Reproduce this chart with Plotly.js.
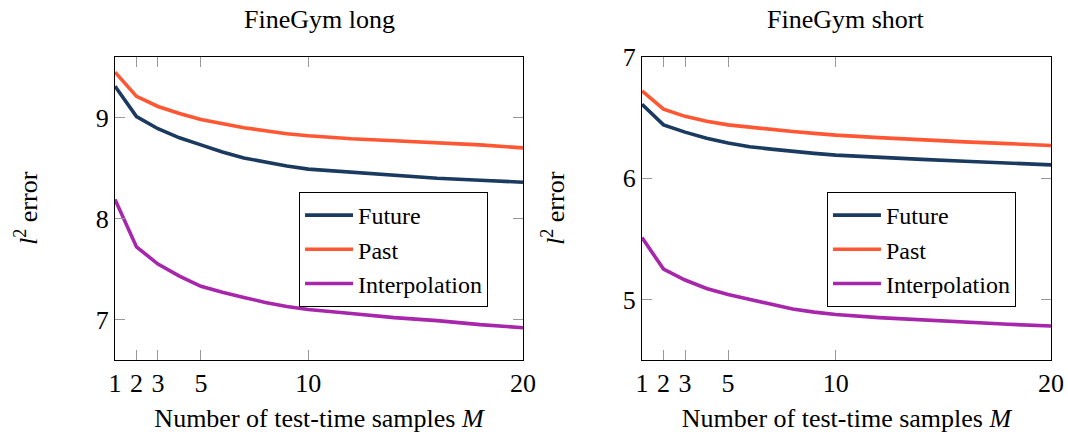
<!DOCTYPE html>
<html>
<head>
<meta charset="utf-8">
<script src="https://cdn.plot.ly/plotly-3.0.1.min.js"></script>
<style>html,body{margin:0;padding:0;background:#fff}#chart{width:1068px;height:436px}</style>
</head>
<body>
<div id="chart"></div>
<script>
// Data
const samples = [1, 2, 3, 4, 5, 6, 7, 8, 9, 10, 12, 14, 16, 18, 20];
const xTicks = [1, 2, 3, 5, 10, 20];
const seriesNames = ["Future", "Past", "Interpolation"];
const panelTitles = ["FineGym long", "FineGym short"];

const longFuture = [9.31, 9.01, 8.89, 8.80, 8.73, 8.66, 8.60, 8.56, 8.52, 8.49, 8.46, 8.43, 8.40, 8.38, 8.36];
const longPast   = [9.45, 9.21, 9.11, 9.04, 8.98, 8.94, 8.90, 8.87, 8.84, 8.82, 8.79, 8.77, 8.75, 8.73, 8.70];
const longInterp = [8.19, 7.72, 7.55, 7.43, 7.33, 7.27, 7.22, 7.17, 7.13, 7.10, 7.06, 7.02, 6.99, 6.95, 6.92];

const shortFuture = [6.61, 6.44, 6.38, 6.33, 6.29, 6.26, 6.24, 6.22, 6.205, 6.19, 6.17, 6.155, 6.14, 6.125, 6.11];
const shortPast   = [6.72, 6.57, 6.51, 6.47, 6.44, 6.42, 6.40, 6.385, 6.37, 6.355, 6.335, 6.315, 6.30, 6.285, 6.27];
const shortInterp = [5.51, 5.25, 5.16, 5.09, 5.04, 5.00, 4.96, 4.92, 4.895, 4.875, 4.85, 4.83, 4.81, 4.795, 4.78];

const colors = ["#1b3a5f", "#ff5733", "#a826ac"];
const FONT = "Liberation Serif";
const FS = 26;

const panels = [
  {vals: [longFuture, longPast, longInterp], xa: "x", ya: "y", leg: "legend"},
  {vals: [shortFuture, shortPast, shortInterp], xa: "x2", ya: "y2", leg: "legend2"}
];

const traces = [];
panels.forEach(p => {
  p.vals.forEach((v, i) => {
    traces.push({
      x: samples, y: v, name: seriesNames[i], type: "scatter", mode: "lines",
      line: {color: colors[i], width: 3.6},
      xaxis: p.xa, yaxis: p.ya, legend: p.leg
    });
  });
});

const tickStyle = {
  ticks: "inside", ticklen: 10, tickwidth: 1, tickcolor: "#999",
  showline: true, linecolor: "#000", linewidth: 1, mirror: "ticks",
  showgrid: false, zeroline: false,
  tickfont: {family: FONT, size: FS, color: "#000"}
};

const xStyle = Object.assign({}, tickStyle, {
  range: [1, 20], tickvals: xTicks, ticktext: xTicks.map(String),
  title: {text: "Number of test-time samples <i>M</i>", font: {family: FONT, size: FS, color: "#000"}, standoff: 11}
});

const yDom = [0.1743, 0.8693];
const legendStyle = {
  font: {family: FONT, size: 24, color: "#000"},
  bordercolor: "#000", borderwidth: 1, bgcolor: "#fff",
  xanchor: "left", yanchor: "top", tracegroupgap: 0, itemwidth: 48
};

const layout = {
  width: 1068, height: 436,
  margin: {l: 0, r: 0, t: 0, b: 0},
  paper_bgcolor: "#fff", plot_bgcolor: "#fff",
  font: {family: FONT, size: FS, color: "#000"},
  xaxis: Object.assign({}, xStyle, {domain: [0.1077, 0.4897], anchor: "y"}),
  xaxis2: Object.assign({}, xStyle, {domain: [0.6011, 0.9841], anchor: "y2"}),
  yaxis: Object.assign({}, tickStyle, {domain: yDom, range: [6.6, 9.6], tickvals: [7, 8, 9], anchor: "x"}),
  yaxis2: Object.assign({}, tickStyle, {domain: yDom, range: [4.5, 7.0], tickvals: [5, 6, 7], anchor: "x2"}),
  legend: Object.assign({}, legendStyle, {x: 0.28, y: 0.5596}),
  legend2: Object.assign({}, legendStyle, {x: 0.7743, y: 0.5596}),
  annotations: [
    {text: panelTitles[0], xref: "paper", yref: "paper", x: 319/1068, y: 1 - 19/436, showarrow: false, xanchor: "center", yanchor: "middle", font: {family: FONT, size: FS}},
    {text: panelTitles[1], xref: "paper", yref: "paper", x: 846/1068, y: 1 - 19/436, showarrow: false, xanchor: "center", yanchor: "middle", font: {family: FONT, size: FS}},
    {text: "<i>l</i><sup>2</sup> error", xref: "paper", yref: "paper", x: 26/1068, y: 1 - 208/436, showarrow: false, textangle: -90, xanchor: "center", yanchor: "middle", font: {family: FONT, size: FS}},
    {text: "<i>l</i><sup>2</sup> error", xref: "paper", yref: "paper", x: 553/1068, y: 1 - 208/436, showarrow: false, textangle: -90, xanchor: "center", yanchor: "middle", font: {family: FONT, size: FS}}
  ],
  showlegend: true
};

Plotly.newPlot("chart", traces, layout, {staticPlot: true, displayModeBar: false});
</script>
</body>
</html>
